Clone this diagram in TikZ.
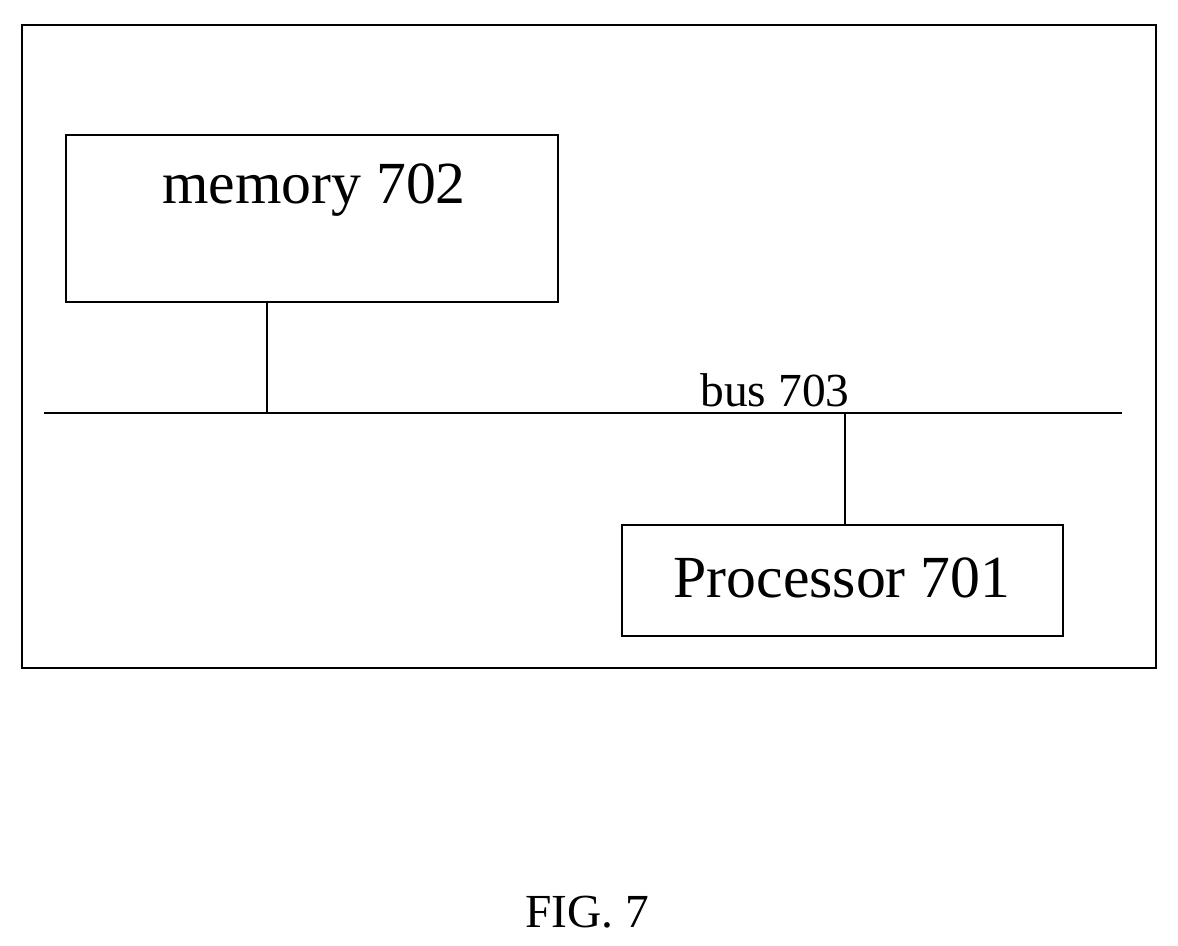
\documentclass[tikz,border=0pt]{standalone}
\usepackage{fontspec}
\setmainfont{Liberation Serif}
\begin{document}
\begin{tikzpicture}[x=0.02cm,y=-0.02cm,line width=1.1pt,
  box/.style={draw,rectangle,inner sep=0pt},
  big/.style={font=\fontsize{34}{40}\selectfont},
  mid/.style={font=\fontsize{27}{32}\selectfont}]
\useasboundingbox (0,0) rectangle (1178,946);
\node[box,minimum width=1134*0.02cm,minimum height=643*0.02cm] (outer) at (589,346.5) {};
\node[box,minimum width=492*0.02cm,minimum height=167*0.02cm] (mem) at (312,218.5) {};
\node[big] (memt) at (314,190) {memory 702};
\node[box,minimum width=441*0.02cm,minimum height=111*0.02cm] (proc) at (842.5,580.5) {};
\node[big] (proct) at (842,578) {Processor 701};
\coordinate (busL) at (44,413);
\coordinate (busR) at (1122,413);
\draw (busL) -- (busR);
\node[mid] (bus) at (775,390) {bus 703};
\coordinate (mb) at (267,413);
\coordinate (pb) at (845,413);
\draw (mem.south -| mb) -- (mb);
\draw (pb) -- (proc.north -| pb);
\node[mid] (fig) at (587,912) {FIG. 7};
\end{tikzpicture}
\end{document}
